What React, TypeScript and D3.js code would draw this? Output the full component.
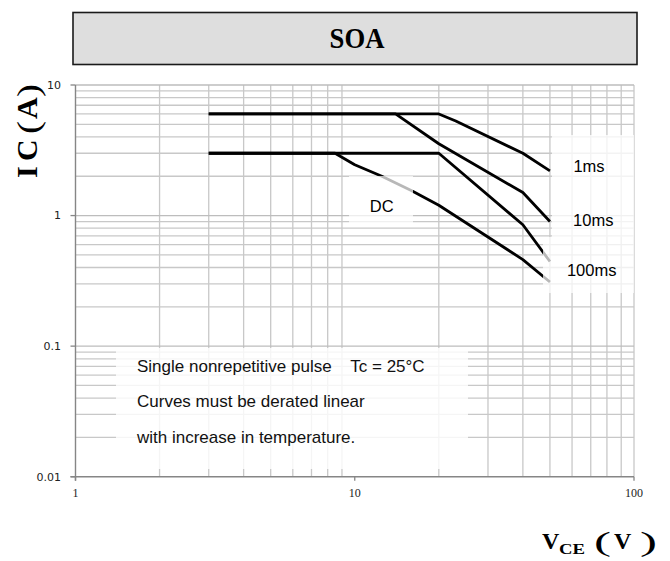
import React from "react";
import * as d3 from "d3";

// ---- data ----
const xTickValues = [1, 10, 100];
const xTickLabels = ["1", "10", "100"];
const yTickValues = [0.01, 0.1, 1, 10];
const yTickLabels = ["0.01", "0.1", "1", "10"];

const v1ms = [3, 20, 23, 40, 50];
const i1ms = [6, 6, 5.3, 3.0, 2.2];
const v10ms = [3, 14, 20, 40, 50];
const i10ms = [6, 6, 3.55, 1.5, 0.9];
const v100ms = [3, 20, 40, 50];
const i100ms = [3, 3, 0.85, 0.445];
const vDC = [3, 8.5, 10, 12.5, 16, 20, 40, 50];
const iDC = [3, 3, 2.45, 2.0, 1.55, 1.2, 0.46, 0.31];

const seriesNames = ["1ms", "10ms", "100ms", "DC"];
const noteLines = [
  "Single nonrepetitive pulse    Tc = 25°C",
  "Curves must be derated linear",
  "with increase in temperature.",
];

const W = 670;
const H = 561;
const L = 75.5, R = 634, T = 85, B = 476.7;

export default function App() {
  const x = d3.scaleLog().domain([1, 100]).range([L, R]);
  const y = d3.scaleLog().domain([0.01, 10]).range([B, T]);

  const minorX: number[] = [];
  [1, 10].forEach((d) => { for (let k = 2; k <= 9; k++) minorX.push(k * d); });
  const minorY: number[] = [];
  [0.01, 0.1, 1].forEach((d) => { for (let k = 2; k <= 9; k++) minorY.push(k * d); });

  const line = d3
    .line<[number, number]>()
    .x((d) => x(d[0]))
    .y((d) => y(d[1]));

  const zip = (vs: number[], is: number[]) => vs.map((v, i) => [v, is[i]] as [number, number]);
  const curves = [zip(v1ms, i1ms), zip(v10ms, i10ms), zip(v100ms, i100ms), zip(vDC, iDC)];

  const gridColor = "#c8c8c8";
  const sans = "'Liberation Sans', Arial, sans-serif";
  const serif = "'Liberation Serif', 'Times New Roman', serif";

  return (
    <svg width={W} height={H} style={{ position: "absolute", left: 0, top: 0, background: "#fff" }}>
      {/* title box */}
      <rect x={73} y={12.5} width={564} height={52} fill="#dedede" stroke="#1a1a1a" strokeWidth={1.6} />
      <text x={357} y={48} textAnchor="middle" fontFamily={serif} fontWeight="bold" fontSize={29}
        transform="translate(357,0) scale(0.92,1) translate(-357,0)">SOA</text>

      {/* gridlines */}
      {minorX.map((v) => (
        <line key={"gx" + v} x1={x(v)} x2={x(v)} y1={T} y2={B} stroke={gridColor} strokeWidth={1.3} />
      ))}
      <line x1={R} x2={R} y1={T} y2={B} stroke={gridColor} strokeWidth={1.3} />
      {minorY.map((v) => (
        <line key={"gy" + v} x1={L} x2={R} y1={y(v)} y2={y(v)} stroke={gridColor} strokeWidth={1.3} />
      ))}
      {[0.1, 1, 10].map((v) => (
        <line key={"gM" + v} x1={L} x2={R} y1={y(v)} y2={y(v)} stroke="#bdbdbd" strokeWidth={1.3} />
      ))}

      {/* axes */}
      <line x1={L} x2={L} y1={T} y2={B + 4} stroke="#868686" strokeWidth={1.4} />
      <line x1={L - 5} x2={R} y1={B} y2={B} stroke="#868686" strokeWidth={1.6} />
      {yTickValues.map((v) => (
        <line key={"yt" + v} x1={L - 5} x2={L} y1={y(v)} y2={y(v)} stroke="#868686" strokeWidth={1.3} />
      ))}
      {xTickValues.map((v) => (
        <line key={"xt" + v} x1={x(v)} x2={x(v)} y1={B} y2={B + 4} stroke="#868686" strokeWidth={1.3} />
      ))}
      {yTickValues.map((v, i) => (
        <text key={"yl" + v} x={61} y={y(v)} dy="0.35em" textAnchor="end" fontFamily="'DejaVu Sans', Verdana, sans-serif"
          fontSize={11} fill="#222">{yTickLabels[i]}</text>
      ))}
      {xTickValues.map((v, i) => (
        <text key={"xl" + v} x={x(v)} y={493} dy="0.35em" textAnchor="middle" fontFamily={serif}
          fontSize={12} fill="#222">{xTickLabels[i]}</text>
      ))}

      {/* curves */}
      {curves.map((c, i) => (
        <path key={"c" + i} d={line(c) || ""} fill="none" stroke="#000" strokeWidth={2.8} strokeLinejoin="round" />
      ))}

      {/* label boxes (semi-transparent white, drawn over curves) */}
      <rect x={349} y={176} width={64} height={47} fill="#fff" fillOpacity={0.72} />
      <rect x={552} y={135} width={82} height={64} fill="#fff" fillOpacity={0.78} />
      <rect x={552} y={199} width={82} height={38} fill="#fff" fillOpacity={0.78} />
      <rect x={543} y={237} width={91} height={56} fill="#fff" fillOpacity={0.72} />
      <rect x={116} y={348} width={352} height={121} fill="#fff" fillOpacity={0.82} />

      <text x={381.7} y={206} dy="0.35em" textAnchor="middle" fontFamily={sans} fontSize={16.5}>{seriesNames[3]}</text>
      <text x={589} y={166.7} dy="0.35em" textAnchor="middle" fontFamily={sans} fontSize={16.5}>{seriesNames[0]}</text>
      <text x={593.3} y={220} dy="0.35em" textAnchor="middle" fontFamily={sans} fontSize={16.5}>{seriesNames[1]}</text>
      <text x={591.7} y={270.7} dy="0.35em" textAnchor="middle" fontFamily={sans} fontSize={16.5}>{seriesNames[2]}</text>

      {noteLines.map((t, i) => (
        <text key={"n" + i} x={137} y={371.7 + i * 35.5} fontFamily={sans} fontSize={17}
          style={{ whiteSpace: "pre" }} fill="#111">{t}</text>
      ))}

      {/* y axis title: IC（A） */}
      <g transform="translate(37,178) rotate(-90)" fontFamily={serif} fontWeight="bold" fontSize={30}>
        <text x={0} y={0}>I</text>
        <text x={17} y={0}>C</text>
        <text x={44} y={2} textLength={13} lengthAdjust="spacingAndGlyphs" fontSize={31} fontWeight="normal">(</text>
        <text x={59} y={0}>A</text>
        <text x={81} y={2} textLength={13} lengthAdjust="spacingAndGlyphs" fontSize={31} fontWeight="normal">)</text>
      </g>

      {/* x axis title: V_CE（V） */}
      <g fontFamily={serif} fontWeight="bold">
        <text x={542} y={549} fontSize={24}>V</text>
        <text x={559} y={554} fontSize={15} textLength={26} lengthAdjust="spacingAndGlyphs">CE</text>
        <text x={594} y={551} fontSize={28} fontWeight="normal" textLength={17} lengthAdjust="spacingAndGlyphs">(</text>
        <text x={614} y={549} fontSize={24}>V</text>
        <text x={640} y={551} fontSize={28} fontWeight="normal" textLength={17} lengthAdjust="spacingAndGlyphs">)</text>
      </g>
    </svg>
  );
}
